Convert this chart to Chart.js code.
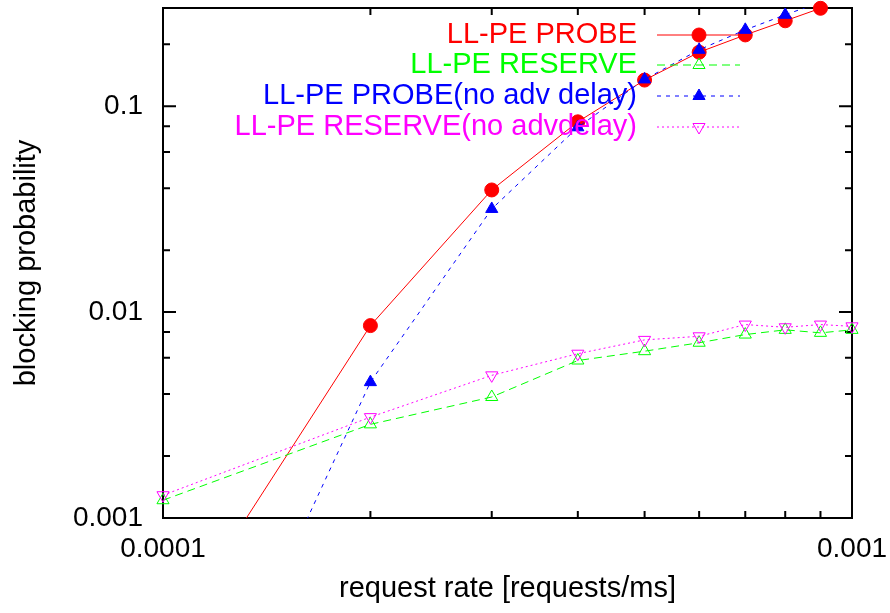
<!DOCTYPE html>
<html>
<head>
<meta charset="utf-8">
<script src="https://cdn.jsdelivr.net/npm/chart.js@4.4.1/dist/chart.umd.min.js"></script>
<style>
html,body{margin:0;padding:0;background:#fff;}
#wrap{width:890px;height:613px;position:relative;}
</style>
</head>
<body>
<div id="wrap"><canvas id="c" width="890" height="613"></canvas></div>
<script>
// ---- data ----
const requestRates = [0.0001, 0.0002, 0.0003, 0.0004, 0.0005, 0.0006, 0.0007, 0.0008, 0.0009, 0.001];
const probeValues = [0.000235, 0.0086, 0.0392, 0.084, 0.134, 0.183, 0.222, 0.26, 0.299];
const reserveValues = [0.00122, 0.00285, 0.00387, 0.00582, 0.00646, 0.0071, 0.00778, 0.0082, 0.00793, 0.0082];
const probeNoAdvValues = [0.0000303, 0.00457, 0.0317, 0.079, 0.135, 0.188, 0.235, 0.278, 0.32];
const reserveNoAdvValues = [0.00129, 0.00309, 0.00493, 0.00628, 0.00733, 0.00763, 0.0087, 0.00844, 0.0087, 0.00853];
const seriesLabels = ['LL-PE PROBE', 'LL-PE RESERVE', 'LL-PE PROBE(no adv delay)', 'LL-PE RESERVE(no advdelay)'];
const xTickValues = [0.0001, 0.001];
const xMinorValues = [0.0002, 0.0003, 0.0004, 0.0005, 0.0006, 0.0007, 0.0008, 0.0009];
const yTickValues = [0.001, 0.01, 0.1];
const yMinorValues = [0.002, 0.004, 0.006, 0.008, 0.02, 0.04, 0.06, 0.08, 0.2];
const xTitle = 'request rate [requests/ms]';
const yTitle = 'blocking probability';

const toPts = (vals) => vals.map((v, i) => ({x: requestRates[i], y: v}));
const FONT = '"Liberation Sans", Arial, Helvetica, sans-serif';

const framePlugin = {
  id: 'frame',
  beforeDatasetsDraw(chart) {
    const {ctx, chartArea: a, scales: {x, y}} = chart;
    ctx.save();
    ctx.strokeStyle = '#000';
    ctx.lineWidth = 2;
    ctx.beginPath();
    const tick = (px, isX, len) => {
      if (isX) {
        ctx.moveTo(px, a.bottom); ctx.lineTo(px, a.bottom - len);
        ctx.moveTo(px, a.top); ctx.lineTo(px, a.top + len);
      } else {
        ctx.moveTo(a.left, px); ctx.lineTo(a.left + len, px);
        ctx.moveTo(a.right, px); ctx.lineTo(a.right - len, px);
      }
    };
    xTickValues.forEach(v => tick(x.getPixelForValue(v), true, 13));
    xMinorValues.forEach(v => tick(x.getPixelForValue(v), true, 7));
    yTickValues.forEach(v => tick(y.getPixelForValue(v), false, 13));
    yMinorValues.forEach(v => { const p = y.getPixelForValue(v); if (p >= a.top) tick(p, false, 7); });
    ctx.stroke();
    ctx.strokeRect(a.left, a.top, a.right - a.left, a.bottom - a.top);
    ctx.restore();
  }
};

const legendPlugin = {
  id: 'gpLegend',
  afterDatasetsDraw(chart) {
    const {ctx} = chart;
    const rowsY = [35, 65, 96, 127];
    const textRight = 637, lineL = 657, lineR = 740, markX = 699;
    ctx.save();
    chart.data.datasets.forEach((ds, i) => {
      const yy = rowsY[i];
      ctx.font = '29px ' + FONT;
      ctx.textAlign = 'right';
      ctx.textBaseline = 'middle';
      ctx.fillStyle = ds.borderColor;
      ctx.fillText(ds.label, textRight, yy);
      ctx.strokeStyle = ds.borderColor;
      ctx.lineWidth = 1;
      ctx.setLineDash(ds.borderDash || []);
      ctx.beginPath();
      ctx.moveTo(lineL, yy); ctx.lineTo(lineR, yy);
      ctx.stroke();
      ctx.setLineDash([]);
      ctx.fillStyle = ds.pointBackgroundColor;
      ctx.strokeStyle = ds.pointBorderColor;
      Chart.helpers.drawPoint(ctx, {
        pointStyle: ds.pointStyle, rotation: ds.pointRotation || 0,
        radius: ds.pointRadius, borderWidth: ds.pointBorderWidth
      }, markX, yy);
    });
    ctx.restore();
  }
};

new Chart(document.getElementById('c'), {
  type: 'line',
  data: {
    datasets: [
      {
        label: seriesLabels[0], data: toPts(probeValues),
        borderColor: '#ff0000', borderWidth: 1, borderDash: [],
        pointStyle: 'circle', pointRadius: 7, pointBackgroundColor: '#ff0000',
        pointBorderColor: '#ff0000', pointBorderWidth: 1, order: 4,
        clip: {left: 0, right: 10, top: 10, bottom: 0}
      },
      {
        label: seriesLabels[1], data: toPts(reserveValues),
        borderColor: '#00ff00', borderWidth: 1, borderDash: [8, 5],
        pointStyle: 'triangle', pointRadius: 7, pointBackgroundColor: 'rgba(0,0,0,0)',
        pointBorderColor: '#00ff00', pointBorderWidth: 1, order: 3,
        clip: {left: 10, right: 10, top: 0, bottom: 0}
      },
      {
        label: seriesLabels[2], data: toPts(probeNoAdvValues),
        borderColor: '#0000ff', borderWidth: 1, borderDash: [4, 5],
        pointStyle: 'triangle', pointRadius: 7, pointBackgroundColor: '#0000ff',
        pointBorderColor: '#0000ff', pointBorderWidth: 1, order: 2,
        clip: {left: 0, right: 10, top: 0, bottom: 0}
      },
      {
        label: seriesLabels[3], data: toPts(reserveNoAdvValues),
        borderColor: '#ff00ff', borderWidth: 1, borderDash: [2, 3],
        pointStyle: 'triangle', pointRotation: 180, pointRadius: 7, pointBackgroundColor: 'rgba(0,0,0,0)',
        pointBorderColor: '#ff00ff', pointBorderWidth: 1, order: 1,
        clip: {left: 10, right: 10, top: 0, bottom: 0}
      }
    ]
  },
  options: {
    responsive: false,
    animation: false,
    events: [],
    layout: {padding: {left: 0, right: 38, top: 6, bottom: 0}},
    elements: {line: {tension: 0}},
    plugins: {legend: {display: false}, tooltip: {enabled: false}},
    scales: {
      x: {
        type: 'logarithmic', min: 0.0001, max: 0.001,
        grid: {display: false, drawTicks: false},
        border: {display: false},
        afterBuildTicks: (s) => { s.ticks = xTickValues.map(v => ({value: v})); },
        afterFit: (s) => { s.height = 95; s.paddingLeft = 0; s.paddingRight = 0; s.paddingTop = 0; s.paddingBottom = 0; },
        ticks: {
          color: '#000', font: {family: FONT, size: 28}, padding: 14,
          maxRotation: 0, autoSkip: false,
          callback: (v) => String(v)
        },
        title: {display: true, text: xTitle, color: '#000', font: {family: FONT, size: 29, lineHeight: 1}, padding: {top: 0, bottom: 10}}
      },
      y: {
        type: 'logarithmic', min: 0.001, max: 0.3,
        grid: {display: false, drawTicks: false},
        border: {display: false},
        afterBuildTicks: (s) => { s.ticks = yTickValues.map(v => ({value: v})); },
        afterFit: (s) => { s.width = 163; s.paddingLeft = 0; s.paddingRight = 0; s.paddingTop = 0; s.paddingBottom = 0; },
        ticks: {
          color: '#000', font: {family: FONT, size: 28}, padding: 20, autoSkip: false,
          callback: (v) => String(v)
        },
        title: {display: true, text: yTitle, color: '#000', font: {family: FONT, size: 29, lineHeight: 1}, padding: {top: 12, bottom: 0}}
      }
    }
  },
  plugins: [framePlugin, legendPlugin]
});
</script>
</body>
</html>
